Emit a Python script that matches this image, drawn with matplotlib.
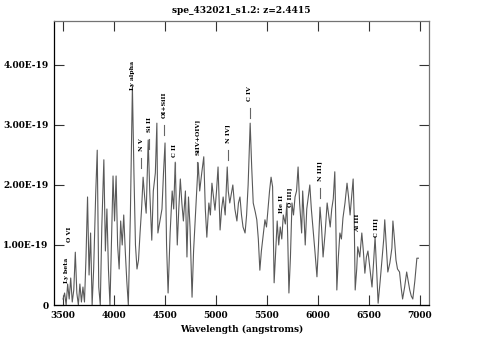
import numpy as np
import matplotlib
matplotlib.use("Agg")
import matplotlib.pyplot as plt

# observed wavelength (angstroms) and flux (units of 1e-19)
wave = [3500, 3515, 3530, 3545, 3560, 3575, 3590, 3605, 3620, 3635, 3650, 3665, 3680, 3695,
        3710, 3725, 3740, 3755, 3770, 3785, 3800, 3820, 3835, 3850, 3865, 3880, 3900, 3915,
        3930, 3945, 3960, 3975, 3990, 4005, 4020, 4035, 4050, 4065, 4080, 4095, 4110, 4125,
        4140, 4160, 4180, 4195, 4210, 4225, 4240, 4255, 4270, 4285, 4300, 4315, 4335, 4350,
        4370, 4385, 4405, 4420, 4430, 4450, 4470, 4485, 4500, 4515, 4530, 4550, 4570, 4585,
        4600, 4620, 4635, 4650, 4665, 4680, 4700, 4715, 4730, 4745, 4765, 4780, 4795, 4810,
        4825, 4840, 4860, 4880, 4895, 4910, 4930, 4945, 4960, 4975, 4990, 5005, 5020, 5040,
        5055, 5070, 5090, 5110, 5120, 5135, 5150, 5165, 5185, 5205, 5220, 5235, 5250, 5265,
        5285, 5300, 5315, 5335, 5350, 5365, 5385, 5400, 5415, 5430, 5445, 5465, 5480, 5495,
        5510, 5525, 5540, 5555, 5570, 5585, 5600, 5615, 5630, 5645, 5660, 5680, 5695, 5705,
        5715, 5730, 5745, 5760, 5775, 5790, 5805, 5820, 5840, 5850, 5865, 5875, 5890, 5905,
        5920, 5935, 5950, 5970, 5990, 6005, 6020, 6035, 6050, 6070, 6090, 6105, 6120, 6135,
        6150, 6165, 6175, 6185, 6200, 6215, 6230, 6245, 6265, 6285, 6300, 6315, 6330, 6345,
        6355, 6365, 6380, 6390, 6410, 6430, 6445, 6460, 6475, 6490, 6510, 6530, 6545, 6560,
        6575, 6590, 6610, 6630, 6645, 6655, 6670, 6685, 6705, 6725, 6735, 6750, 6765, 6780,
        6800, 6815, 6830, 6850, 6870, 6885, 6900, 6915, 6930, 6950, 6970, 6985]
flux = [0.10, 0.20, 0.00, 0.35, 0.10, 0.45, 0.05, 0.25, 0.88, 0.20, 0.00, 0.35, 0.05, 0.30,
        0.05, 0.80, 1.80, 0.50, 1.20, 0.00, 0.60, 1.85, 2.58, 0.30, 0.00, 1.30, 2.42, 0.90,
        1.60, 0.60, 0.00, 1.10, 2.15, 1.40, 2.15, 1.00, 0.60, 1.40, 1.00, 1.50, 0.90, 0.40,
        0.00, 1.50, 3.65, 2.20, 1.00, 0.60, 0.75, 1.20, 1.60, 2.13, 1.80, 1.53, 2.75, 1.90,
        1.08, 1.90, 2.20, 3.03, 1.20, 1.40, 1.60, 2.20, 2.70, 1.00, 0.20, 1.20, 1.90, 1.60,
        2.38, 1.00, 1.60, 2.10, 1.70, 1.40, 1.90, 0.80, 1.80, 1.30, 0.13, 0.90, 1.40, 1.90,
        2.37, 1.90, 2.20, 2.47, 1.60, 1.13, 1.70, 1.50, 2.03, 1.80, 1.58, 1.90, 2.30, 1.25,
        1.60, 1.80, 1.50, 2.30, 1.90, 1.70, 1.85, 2.00, 1.60, 1.40, 1.70, 1.80, 1.50, 1.30,
        1.20, 1.50, 2.00, 3.03, 2.30, 1.70, 1.55, 1.42, 1.10, 0.58, 0.90, 1.20, 1.42, 1.30,
        1.60, 1.90, 2.13, 1.97, 0.37, 0.90, 1.40, 1.00, 1.30, 1.10, 1.50, 1.35, 1.70, 1.00,
        0.20, 0.80, 1.70, 1.50, 1.80, 1.90, 2.30, 1.70, 1.20, 1.90, 1.40, 1.00, 1.60, 1.80,
        2.00, 1.60, 1.30, 0.90, 0.47, 1.00, 1.63, 1.30, 0.80, 1.20, 1.70, 1.50, 1.30, 1.60,
        1.77, 2.22, 1.40, 0.25, 0.80, 1.20, 1.10, 1.45, 1.70, 2.03, 1.80, 1.50, 1.80, 2.10,
        1.50, 0.25, 0.60, 0.97, 0.80, 1.20, 0.90, 0.53, 0.80, 0.90, 0.60, 0.30, 0.70, 1.13,
        0.60, 0.03, 0.40, 0.80, 1.10, 1.42, 1.00, 0.55, 0.70, 0.95, 1.40, 1.10, 0.75, 0.60,
        0.55, 0.30, 0.10, 0.30, 0.55, 0.40, 0.25, 0.15, 0.10, 0.40, 0.78, 0.78]

z = 2.4415
line_names = ["Ly beta", "O VI", "Ly alpha", "N V", "Si II", "OI+SiII", "C II", "SiIV+OIV]",
              "N IV]", "C IV", "He II", "O III]", "N III]", "Al III", "C III]"]
line_rest = [1026, 1034, 1216, 1240, 1262, 1304, 1335, 1400, 1486, 1549, 1640, 1663, 1750, 1857, 1909]
# height (1e-19) of the marker base for each label
line_h = [0.09, 0.77, 3.30, 2.28, 2.60, 2.83, 2.19, 2.22, 2.42, 3.12, 1.25, 1.35, 1.78, 0.94, 0.85]

xticks = [3500, 4000, 4500, 5000, 5500, 6000, 6500, 7000]
yticks = [0, 1, 2, 3, 4]
ylabels = ["0", "1.00E-19", "2.00E-19", "3.00E-19", "4.00E-19"]

fnt = dict(family="DejaVu Serif", fontweight="bold")

fig = plt.figure(figsize=(4.83, 3.58), dpi=100)
ax = fig.add_axes([0.112, 0.148, 0.776, 0.793])

ax.plot(wave, flux, color="0.35", lw=0.8)

for name, rest, h in zip(line_names, line_rest, line_h):
    lam = rest * (1 + z)
    if name not in ("Ly beta", "Ly alpha", "He II", "O III]", "Al III", "C III]", "O VI"):
        ax.plot([lam, lam], [h, h + 0.17], color="0.4", lw=0.8)
    ax.text(lam, h + 0.28, name, rotation=90, ha="center", va="bottom",
            fontsize=4.5, **fnt)

ax.set_xlim(3412, 7088)
ax.set_ylim(0, 4.73)
ax.set_xticks(xticks)
ax.set_xticklabels([str(t) for t in xticks], fontsize=6.5, **fnt)
ax.set_yticks(yticks)
ax.set_yticklabels(ylabels, fontsize=6.5, **fnt)
ax.tick_params(direction="in", length=7, width=0.8, top=True, right=True, pad=4,
               color="0.2")
ax.spines["left"].set_color("black")
ax.spines["bottom"].set_color("black")
ax.spines["top"].set_color("0.45")
ax.spines["right"].set_color("0.45")
for s in ax.spines.values():
    s.set_linewidth(0.9)

ax.set_xlabel("Wavelength (angstroms)", fontsize=6.5, labelpad=4, **fnt)
ax.set_title("spe_432021_s1.2: z=2.4415", fontsize=6.5, pad=6, **fnt)

fig.savefig("out.png", dpi=100)
